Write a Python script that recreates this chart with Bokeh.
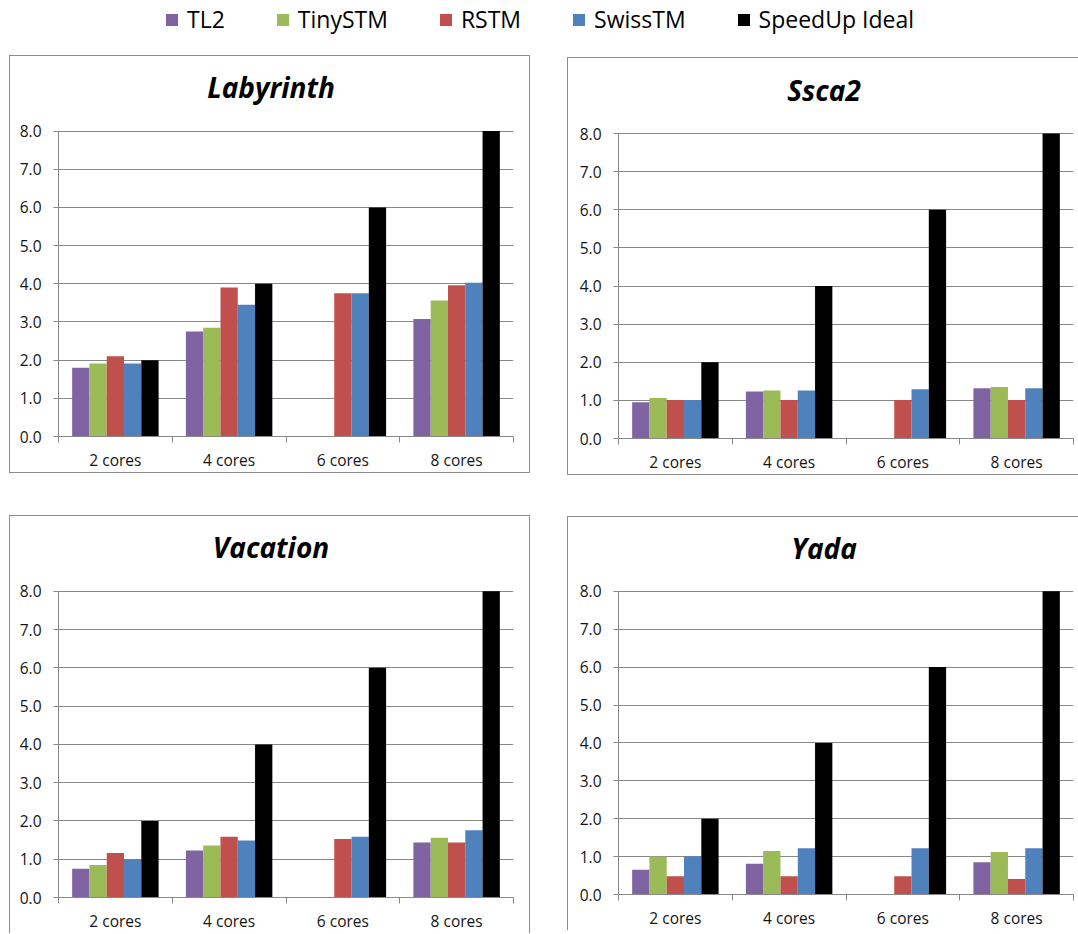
from bokeh.plotting import figure
from bokeh.models import (Range1d, FixedTicker, Legend, LegendItem, Label,
                          CustomJSTickFormatter, NumeralTickFormatter)
from bokeh.layouts import column, row
from bokeh.embed import file_html
from bokeh.resources import INLINE

categories = ["2 cores", "4 cores", "6 cores", "8 cores"]
series = ["TL2", "TinySTM", "RSTM", "SwissTM", "SpeedUp Ideal"]
colors = ["#8064A2", "#9BBB59", "#C0504D", "#4F81BD", "#000000"]
NA = float("nan")

# rows follow `series`, columns follow `categories`
labyrinth = [
    [1.80, 2.75, NA, 3.08],
    [1.91, 2.85, NA, 3.56],
    [2.10, 3.90, 3.75, 3.96],
    [1.91, 3.45, 3.75, 4.03],
    [2.0, 4.0, 6.0, 8.0],
]
ssca2 = [
    [0.95, 1.23, NA, 1.32],
    [1.06, 1.26, NA, 1.35],
    [1.01, 1.01, 1.01, 1.01],
    [1.01, 1.26, 1.29, 1.32],
    [2.0, 4.0, 6.0, 8.0],
]
vacation = [
    [0.75, 1.23, NA, 1.44],
    [0.85, 1.36, NA, 1.56],
    [1.16, 1.59, 1.53, 1.44],
    [1.00, 1.49, 1.59, 1.76],
    [2.0, 4.0, 6.0, 8.0],
]
yada = [
    [0.65, 0.81, NA, 0.85],
    [1.00, 1.15, NA, 1.12],
    [0.48, 0.48, 0.48, 0.41],
    [1.01, 1.22, 1.22, 1.22],
    [2.0, 4.0, 6.0, 8.0],
]
y_ticks = [0, 1, 2, 3, 4, 5, 6, 7, 8]

BAR_W = 0.152
GRID = "#888888"
TXT = "#141414"
FONT = "Open Sans"


def make_panel(title, data, width, height, left, right, top, bottom, margin, border):
    ymin, ymax = y_ticks[0], y_ticks[-1]
    ppu = (height - top - bottom) / (ymax - ymin)
    # the frame reaches the top edge so that the title label (inside the frame) is not clipped
    p = figure(width=width, height=height, output_backend="svg", toolbar_location=None,
               x_range=Range1d(0, len(categories)), y_range=Range1d(ymin, ymax + top / ppu),
               min_border_left=left, min_border_right=right,
               min_border_top=0, min_border_bottom=bottom,
               outline_line_color=None, margin=margin)
    p.styles = border
    for j, color in enumerate(colors):
        xs = [i + 0.5 + (j - 2) * BAR_W for i in range(len(categories))]
        p.vbar(x=xs, top=data[j], bottom=0, width=BAR_W, fill_color=color, line_color=None)

    p.xgrid.visible = False
    p.ygrid.grid_line_color = GRID
    p.ygrid.grid_line_width = 1
    p.yaxis.ticker = FixedTicker(ticks=y_ticks)
    p.yaxis.bounds = (ymin, ymax)
    p.yaxis.formatter = NumeralTickFormatter(format="0.0")
    p.xaxis.ticker = FixedTicker(ticks=[i + 0.5 for i in range(len(categories))],
                                 minor_ticks=list(range(len(categories) + 1)))
    p.xaxis.formatter = CustomJSTickFormatter(args=dict(cats=categories),
                                              code="return cats[Math.floor(tick)]")
    for ax in (p.xaxis[0], p.yaxis[0]):
        ax.axis_line_color = GRID
        ax.major_label_text_font = FONT
        ax.major_label_text_font_size = "15.5px"
        ax.major_label_text_color = TXT
    p.yaxis.major_tick_out = 5
    p.yaxis.major_tick_in = 0
    p.yaxis.major_tick_line_color = GRID
    p.yaxis.minor_tick_line_color = None
    p.yaxis.major_label_standoff = 12
    p.xaxis.major_tick_line_color = None
    p.xaxis.major_tick_out = 0
    p.xaxis.major_tick_in = 0
    p.xaxis.minor_tick_line_color = GRID
    p.xaxis.minor_tick_out = 6
    p.xaxis.minor_tick_in = 0
    p.xaxis.major_label_standoff = 6

    frame_w = width - left - right
    p.add_layout(Label(x=len(categories) / 2, y=ymax, text=title,
                       x_offset=width / 2 - (left + frame_w / 2), y_offset=top - 31,
                       text_align="center", text_baseline="middle",
                       text_font=FONT, text_font_style="bold italic",
                       text_font_size="28px", text_color="#000000"))
    return p


lf = figure(width=1078, height=55, output_backend="svg", toolbar_location=None,
            x_range=Range1d(0, 1), y_range=Range1d(0, 1), x_axis_type=None, y_axis_type=None,
            min_border=0, outline_line_color=None)
lf.grid.visible = False
items = []
for name, color in zip(series, colors):
    r = lf.vbar(x=[0], top=[0], bottom=[0], width=0, fill_color=color, line_color=None)
    items.append(LegendItem(label=name, renderers=[r]))
legend = Legend(items=items, orientation="horizontal", location="top_center",
                border_line_color=None, background_fill_alpha=0,
                glyph_width=15, glyph_height=15, label_standoff=8, spacing=50,
                label_text_font=FONT, label_text_font_size="23px",
                label_text_color="#000000", margin=3, padding=6)
lf.add_layout(legend, "center")

B = "1px solid #8c8c8c"
p1 = make_panel("Labyrinth", labyrinth, 521, 418, 48, 18, 75, 36, (0, 0, 0, 9),
                {"border": B})
p2 = make_panel("Ssca2", ssca2, 511, 418, 50, 6, 75, 38, (2, 0, 0, 37),
                {"border": B, "border-right": "none"})
p3 = make_panel("Vacation", vacation, 521, 418, 48, 18, 75, 36, (40, 0, 0, 9),
                {"border": B, "border-bottom": "none"})
p4 = make_panel("Yada", yada, 511, 414, 50, 6, 74, 36, (41, 0, 0, 37),
                {"border": B, "border-right": "none", "border-bottom": "none"})

layout = column(lf, row(p1, p2), row(p3, p4))
open("out.html", "w").write(file_html(layout, INLINE))
